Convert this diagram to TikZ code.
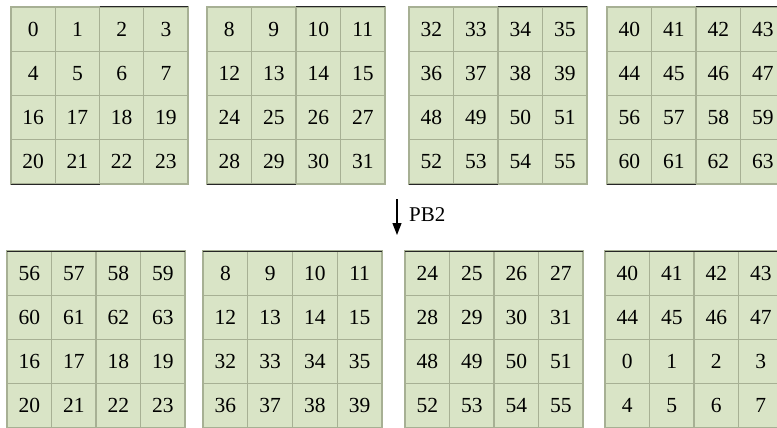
\documentclass[tikz,border=0pt]{standalone}
\usepackage{fontspec}
\setmainfont{Liberation Serif}
\usetikzlibrary{arrows.meta}
\definecolor{cellfill}{HTML}{D9E4C6}
\definecolor{cellline}{HTML}{A7B094}
\tikzset{
  cell/.style={draw=cellline, fill=cellfill, line width=1.3pt, minimum height=44.25pt,
    inner sep=0pt, outer sep=0pt, font=\fontsize{21.5}{21.5}\selectfont},
  darkedge/.style={draw=black!85, line width=1pt},
  lbl/.style={font=\fontsize{21}{21}\selectfont, inner sep=0pt, anchor=west}
}
\newcommand\gridblock[5]{%
  \foreach \n [count=\i from 0] in {#5} {
    \pgfmathtruncatemacro\cc{mod(\i,4)}
    \pgfmathtruncatemacro\rr{\i/4}
    \node[cell, minimum width=#4pt] (#1-\i) at ({#2+(\cc+0.5)*#4}, {-#3-(\rr+0.5)*44.25}) {\n};
  }}
\begin{document}
\begin{tikzpicture}[x=1pt,y=1pt]
\useasboundingbox (0,0) rectangle (777,-428);
% top row
\gridblock{ta}{11}{7}{44.25}{0,1,2,3,4,5,6,7,16,17,18,19,20,21,22,23}
\gridblock{tb}{207}{7}{44.5}{8,9,10,11,12,13,14,15,24,25,26,27,28,29,30,31}
\gridblock{tc}{409}{7}{44.5}{32,33,34,35,36,37,38,39,48,49,50,51,52,53,54,55}
\gridblock{td}{607}{7}{44.5}{40,41,42,43,44,45,46,47,56,57,58,59,60,61,62,63}
\foreach \b in {ta,tb,tc,td} {
  \draw[darkedge] (\b-2.north west) -- (\b-3.north east);
  \draw[darkedge] (\b-12.south west) -- (\b-13.south east);
}
% bottom row
\gridblock{ba}{7}{251}{44.5}{56,57,58,59,60,61,62,63,16,17,18,19,20,21,22,23}
\gridblock{bb}{203}{251}{44.75}{8,9,10,11,12,13,14,15,32,33,34,35,36,37,38,39}
\gridblock{bc}{405}{251}{44.5}{24,25,26,27,28,29,30,31,48,49,50,51,52,53,54,55}
\gridblock{bd}{605}{251}{44.5}{40,41,42,43,44,45,46,47,0,1,2,3,4,5,6,7}
\foreach \b in {ba,bb,bc,bd} {
  \draw[darkedge] (\b-0.north west) -- (\b-3.north east);
}
% arrow
\coordinate (arrS) at (397,-199);
\coordinate (arrE) at (397,-235);
\draw[line width=1.3pt, -{Triangle[length=12pt,width=9pt]}] (arrS) -- (arrE);
\node[lbl] (pb) at (409,-215) {PB2};
\end{tikzpicture}
\end{document}
